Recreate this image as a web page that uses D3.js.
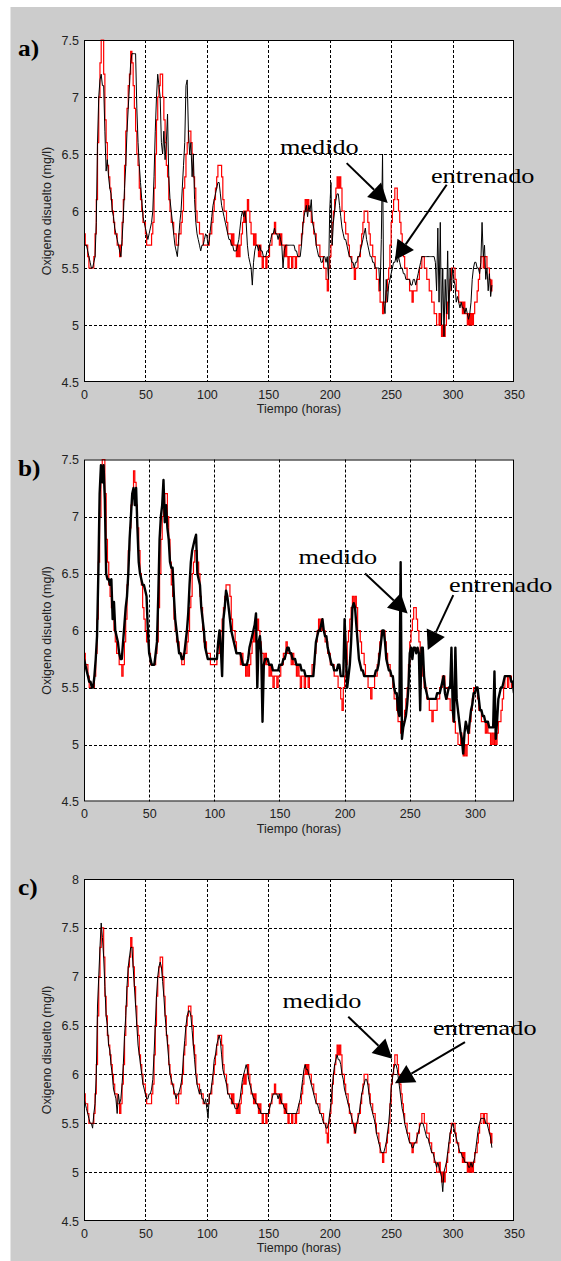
<!DOCTYPE html>
<html>
<head>
<meta charset="utf-8">
<script src="https://cdn.jsdelivr.net/npm/d3@7"></script>
<style>
  body { margin: 0; background: #fff; }
  svg { display: block; }
</style>
</head>
<body>
<svg id="fig" width="561" height="1261"></svg>
<script>
// oxigeno disuelto medido (mg/l), una muestra por hora, t = 0..332
const medido = [
  5.8,5.7,5.7,5.6,5.5,5.5,5.5,5.5,5.6,5.8,
  6.1,6.6,7.0,7.3,7.5,7.5,7.2,6.8,6.6,6.4,
  6.3,6.2,6.1,6.0,5.9,5.8,5.8,5.7,5.7,5.6,
  5.7,5.9,6.1,6.4,6.7,6.9,7.1,7.2,7.4,7.3,
  7.1,6.9,6.7,6.5,6.4,6.2,6.1,6.0,5.9,5.9,
  5.8,5.7,5.7,5.7,5.7,5.8,5.9,6.2,6.5,6.8,
  7.0,7.1,7.2,7.2,7.0,6.8,6.6,6.4,6.3,6.1,
  6.0,5.9,5.9,5.8,5.8,5.7,5.7,5.8,5.8,5.9,
  6.0,6.2,6.3,6.5,6.6,6.7,6.7,6.6,6.5,6.3,
  6.2,6.0,5.9,5.9,5.8,5.8,5.8,5.7,5.7,5.7,
  5.7,5.7,5.8,5.8,5.9,6.0,6.1,6.2,6.3,6.4,
  6.4,6.4,6.3,6.1,6.0,6.0,5.9,5.8,5.8,5.8,
  5.7,5.8,5.7,5.7,5.6,5.7,5.6,5.7,5.8,5.9,
  6.0,5.9,6.0,6.1,6.0,5.9,5.8,5.8,5.7,5.8,
  5.7,5.7,5.6,5.7,5.6,5.5,5.6,5.6,5.5,5.6,
  5.6,5.7,5.7,5.8,5.8,5.9,5.8,5.8,5.8,5.7,
  5.8,5.7,5.7,5.6,5.7,5.6,5.5,5.6,5.6,5.5,
  5.6,5.6,5.5,5.6,5.6,5.7,5.7,5.8,5.9,6.0,
  6.1,6.0,6.1,6.0,6.0,5.9,5.9,5.8,5.8,5.7,
  5.7,5.7,5.6,5.6,5.6,5.5,5.5,5.4,5.3,5.5,
  5.6,5.7,5.9,6.0,6.1,6.2,6.3,6.2,6.3,6.2,
  6.0,6.0,5.9,5.8,5.8,5.7,5.6,5.6,5.5,5.5,
  5.4,5.5,5.5,5.6,5.6,5.7,5.8,5.9,6.0,6.0,
  6.0,5.9,5.8,5.7,5.7,5.6,5.6,5.5,5.4,5.4,
  5.3,5.2,5.2,5.1,5.2,5.2,5.3,5.4,5.5,5.7,
  5.9,6.0,6.1,6.2,6.2,6.1,6.0,5.9,5.8,5.7,
  5.6,5.5,5.5,5.4,5.4,5.3,5.3,5.2,5.3,5.3,
  5.3,5.4,5.4,5.5,5.5,5.6,5.6,5.5,5.5,5.4,
  5.4,5.3,5.3,5.2,5.2,5.1,5.1,5.0,5.0,5.1,
  5.0,4.9,5.0,4.9,5.0,5.1,5.2,5.3,5.4,5.5,
  5.5,5.5,5.4,5.3,5.3,5.2,5.2,5.2,5.1,5.2,
  5.1,5.1,5.0,5.1,5.0,5.1,5.0,5.1,5.2,5.2,
  5.3,5.4,5.5,5.6,5.6,5.5,5.6,5.6,5.5,5.5,
  5.4,5.3,5.4
];

// salida del modelo entrenado, panel a)
const entrenadoA = [
  5.7,5.7,5.7,5.65,5.6,5.55,5.5,5.5,5.55,5.6,
  5.9,6.6,7.0,7.15,7.2,7.1,7.1,6.7,6.35,6.45,
  6.3,6.2,6.15,6.0,5.95,5.85,5.8,5.75,5.7,5.65,
  5.6,5.75,5.95,6.2,6.4,6.7,6.9,7.1,7.3,7.38,
  7.38,7.38,7.38,6.9,6.6,6.4,6.25,6.1,5.95,5.9,
  5.85,5.8,5.75,5.8,5.85,5.9,6.0,6.3,6.7,7.0,
  7.2,7.1,7.0,6.6,6.5,6.7,6.45,6.6,6.85,6.3,
  6.1,6.0,5.9,5.8,5.7,5.65,5.6,5.75,5.9,6.0,
  6.2,6.4,6.6,7.1,7.15,6.7,6.5,6.6,6.3,6.5,
  6.1,5.9,5.8,5.75,5.7,5.65,5.7,5.7,5.75,5.8,
  5.78,5.7,5.75,5.85,5.95,6.05,6.1,6.15,6.2,6.25,
  6.25,6.15,6.05,6.0,5.95,5.9,5.85,5.8,5.75,5.75,
  5.7,5.7,5.65,5.65,5.65,5.7,5.75,5.85,5.95,6.0,
  5.95,6.0,5.9,5.7,5.6,5.55,5.5,5.35,5.55,5.65,
  5.7,5.7,5.65,5.7,5.65,5.65,5.6,5.6,5.6,5.65,
  5.65,5.7,5.75,5.8,5.8,5.85,5.8,5.8,5.75,5.8,
  5.75,5.7,5.5,5.65,5.7,5.7,5.7,5.7,5.7,5.7,
  5.7,5.7,5.65,5.65,5.6,5.6,5.6,5.7,5.85,5.95,
  6.0,6.05,5.95,6.05,6.0,6.1,5.9,5.85,5.8,5.7,
  5.65,5.6,5.6,5.55,5.55,5.6,5.6,5.55,5.6,5.4,
  6.0,6.25,5.7,5.9,6.0,6.1,6.15,6.15,6.05,5.95,
  5.85,5.8,5.75,5.75,5.7,5.65,5.6,5.6,5.55,5.55,
  5.5,5.55,5.55,5.6,5.6,5.65,5.7,5.75,5.8,5.85,
  5.75,5.7,5.65,5.6,5.6,5.55,5.55,5.5,5.5,5.5,
  5.5,5.3,5.75,6.5,5.2,5.1,5.4,5.2,5.35,5.4,
  5.45,5.5,5.55,5.55,5.6,5.55,5.6,5.55,5.5,5.5,
  5.45,5.45,5.4,5.4,5.4,5.4,5.35,5.35,5.4,5.4,
  5.35,5.4,5.45,5.5,5.55,5.6,5.6,5.6,5.6,5.6,
  5.6,5.6,5.6,5.6,5.6,5.6,5.55,5.3,5.85,5.2,
  5.9,5.0,5.5,4.9,5.4,5.1,5.65,5.05,5.5,5.3,
  5.5,5.4,5.35,5.2,5.25,5.2,5.15,5.2,5.15,5.15,
  5.1,5.15,5.1,5.05,5.1,5.2,5.4,5.5,5.55,5.55,
  5.5,5.5,5.45,5.55,5.9,5.6,5.7,5.4,5.5,5.3,
  5.45,5.25,5.35
];

// salida del modelo entrenado, panel b)
const entrenadoB = [
  5.75,5.7,5.65,5.6,5.55,5.55,5.5,5.5,5.6,5.75,
  5.95,6.5,7.2,7.45,7.3,7.45,7.15,6.5,6.45,6.45,
  6.4,6.45,6.1,6.25,6.0,5.95,5.9,5.8,5.75,5.75,
  5.9,6.05,6.2,6.3,6.5,6.8,7.0,7.2,7.25,7.1,
  7.25,6.9,6.6,6.5,6.45,6.4,6.4,6.35,6.3,6.0,
  5.8,5.75,5.7,5.7,5.7,5.8,5.9,6.3,6.8,7.0,
  7.1,7.32,6.95,7.1,6.9,6.8,6.6,6.55,6.55,6.3,
  6.1,6.0,5.9,5.8,5.8,5.75,5.75,5.8,5.9,6.0,
  6.15,6.4,6.6,6.7,6.75,6.8,6.84,6.5,6.45,6.4,
  6.2,6.1,6.0,5.85,5.8,5.75,5.75,5.75,5.75,5.75,
  5.75,5.75,5.75,5.9,6.0,5.85,5.6,6.1,6.2,6.35,
  6.3,6.2,6.1,6.0,5.95,5.9,5.85,5.8,5.8,5.8,
  5.8,5.75,5.7,5.7,5.7,5.7,5.75,5.85,5.9,5.95,
  6.0,6.05,6.15,5.5,5.9,5.95,5.8,5.2,5.7,5.75,
  5.75,5.75,5.7,5.7,5.7,5.65,5.65,5.65,5.65,5.65,
  5.7,5.7,5.7,5.75,5.75,5.8,5.85,5.85,5.8,5.8,
  5.75,5.75,5.75,5.7,5.7,5.7,5.7,5.65,5.65,5.65,
  5.6,5.6,5.6,5.6,5.6,5.6,5.6,5.75,5.9,5.95,
  6.0,6.0,6.05,6.1,6.0,5.95,5.95,5.85,5.8,5.75,
  5.7,5.7,5.65,5.65,5.65,5.7,5.7,5.6,5.6,5.6,
  6.1,5.8,5.5,5.6,5.7,5.9,6.2,6.24,6.2,6.05,
  5.9,5.75,5.7,5.65,5.65,5.6,5.6,5.6,5.6,5.6,
  5.6,5.6,5.6,5.6,5.65,5.65,5.7,5.8,5.9,6.0,
  6.0,5.9,5.75,5.7,5.65,5.65,5.6,5.6,5.5,5.45,
  5.45,5.3,5.25,6.6,5.05,5.15,5.2,5.25,5.35,5.5,
  5.8,5.85,5.75,5.85,5.85,5.8,5.85,5.8,5.3,5.85,
  5.85,5.6,5.5,5.45,5.4,5.4,5.4,5.4,5.4,5.4,
  5.4,5.45,5.45,5.45,5.5,5.55,5.6,5.45,5.4,5.45,
  5.5,5.5,5.85,5.3,5.2,5.85,5.4,5.3,5.2,5.1,
  5.05,4.92,5.1,5.2,5.15,5.1,5.2,5.3,5.35,5.45,
  5.45,5.5,5.5,5.4,5.3,5.3,5.25,5.25,5.2,5.2,
  5.2,5.15,5.15,5.15,5.15,5.64,5.05,5.2,5.4,5.45,
  5.5,5.5,5.55,5.6,5.6,5.6,5.6,5.6,5.55,5.55,
  5.45
];

// salida del modelo entrenado, panel c)
const entrenadoC = [
  5.75,5.7,5.65,5.6,5.55,5.5,5.5,5.45,5.6,5.7,
  6.0,6.7,7.0,7.3,7.55,7.4,7.2,6.9,6.6,6.5,
  6.3,6.25,6.1,6.0,5.85,5.8,5.75,5.6,5.8,5.7,
  5.75,5.9,6.1,6.4,6.6,6.9,7.1,7.2,7.3,7.3,
  7.1,6.9,6.7,6.5,6.3,6.2,6.1,6.0,5.9,5.85,
  5.8,5.75,5.75,5.8,5.8,5.85,5.95,6.2,6.5,6.8,
  7.0,7.1,7.15,7.1,6.95,6.8,6.6,6.45,6.3,6.15,
  6.0,5.95,5.9,5.85,5.8,5.75,5.8,5.8,5.85,5.9,
  6.0,6.2,6.35,6.5,6.6,6.65,6.65,6.6,6.45,6.3,
  6.15,6.0,5.9,5.85,5.8,5.85,5.75,5.75,5.7,5.75,
  5.65,5.55,5.8,5.8,5.9,6.0,6.15,6.2,6.3,6.35,
  6.4,6.35,6.2,6.05,6.0,5.95,5.9,5.8,5.8,5.75,
  5.75,5.7,5.7,5.65,5.65,5.65,5.7,5.75,5.85,5.95,
  6.0,6.05,6.1,6.05,5.95,5.9,5.85,5.8,5.75,5.75,
  5.7,5.7,5.65,5.65,5.6,5.6,5.6,5.6,5.6,5.6,
  5.6,5.65,5.7,5.75,5.8,5.8,5.8,5.8,5.75,5.8,
  5.75,5.7,5.7,5.65,5.65,5.6,5.6,5.6,5.6,5.6,
  5.6,5.6,5.6,5.6,5.65,5.7,5.75,5.85,5.95,6.05,
  6.1,6.05,6.05,6.0,5.95,5.9,5.85,5.8,5.75,5.7,
  5.7,5.65,5.6,5.6,5.55,5.5,5.5,5.45,5.45,5.5,
  5.6,5.7,5.85,6.0,6.1,6.15,6.2,6.15,6.15,6.1,
  6.0,5.95,5.85,5.8,5.75,5.7,5.65,5.6,5.55,5.5,
  5.45,5.4,5.5,5.55,5.6,5.7,5.8,5.85,5.9,5.95,
  5.95,5.9,5.8,5.7,5.65,5.6,5.55,5.5,5.4,5.35,
  5.3,5.25,5.2,5.2,5.2,5.25,5.3,5.4,5.5,5.65,
  5.85,5.95,6.05,6.1,6.1,6.05,5.95,5.85,5.75,5.65,
  5.6,5.5,5.45,5.4,5.35,5.3,5.3,5.25,5.25,5.3,
  5.3,5.35,5.4,5.45,5.5,5.5,5.5,5.45,5.4,5.35,
  5.35,5.3,5.25,5.2,5.2,5.15,5.1,5.05,5.1,5.05,
  5.0,4.95,4.8,5.0,5.05,5.1,5.2,5.3,5.4,5.45,
  5.5,5.45,5.4,5.35,5.3,5.25,5.2,5.2,5.15,5.15,
  5.1,5.1,5.1,5.05,5.05,5.1,5.05,5.1,5.15,5.25,
  5.35,5.45,5.5,5.55,5.55,5.55,5.55,5.5,5.5,5.45,
  5.4,5.35,5.25
];

const xTicks350 = [0, 50, 100, 150, 200, 250, 300, 350];
const xTicks330 = [0, 50, 100, 150, 200, 250, 300];
const yTicks75 = [4.5, 5, 5.5, 6, 6.5, 7, 7.5];
const yTicks8 = [4.5, 5, 5.5, 6, 6.5, 7, 7.5, 8];

// anotaciones en coordenadas de datos (horas, mg/l)
const notas = [
  { medido: [159.5, 6.5], entrenado: [282.4, 6.25],
    flechaMedido: [[213.8, 6.42], [247.2, 6.07]],
    flechaEntrenado: [[295.2, 6.23], [253.1, 5.57]] },
  { medido: [164.6, 6.58], entrenado: [280.1, 6.34],
    flechaMedido: [[215.7, 6.50], [248.4, 6.15]],
    flechaEntrenado: [[283.4, 6.31], [263.8, 5.83]] },
  { medido: [161.6, 6.68], entrenado: [284.1, 6.40],
    flechaMedido: [[215.1, 6.59], [250.9, 6.16]],
    flechaEntrenado: [[310.1, 6.33], [253.1, 5.91]] }
];

const panels = [
  { label: "a)", top: 40, xMax: 350, yMax: 7.5, xTicks: xTicks350, yTicks: yTicks75, fit: entrenadoA, fitWidth: 1, nota: notas[0] },
  { label: "b)", top: 459.5, xMax: 330, yMax: 7.5, xTicks: xTicks330, yTicks: yTicks75, fit: entrenadoB, fitWidth: 2.4, nota: notas[1] },
  { label: "c)", top: 879, xMax: 350, yMax: 8, xTicks: xTicks350, yTicks: yTicks8, fit: entrenadoC, fitWidth: 1, nota: notas[2] }
];

const left = 84, right = 514, plotH = 342;
const sans = "'Liberation Sans', Arial, sans-serif";
const serif = "'Liberation Serif', 'Times New Roman', serif";

const svg = d3.select("#fig");

// fondo gris de la figura
svg.append("rect")
  .attr("x", 10.5).attr("y", 7)
  .attr("width", 561 - 10.5).attr("height", 1261 - 7)
  .attr("fill", "#cccccc");

panels.forEach((p, k) => {
  const x = d3.scaleLinear().domain([0, p.xMax]).range([left, right]);
  const y = d3.scaleLinear().domain([4.5, p.yMax]).range([p.top + plotH, p.top]);
  const g = svg.append("g");

  g.append("rect")
    .attr("x", left).attr("y", p.top)
    .attr("width", right - left).attr("height", plotH)
    .attr("fill", "#fff");

  // rejilla punteada
  g.append("g").selectAll("line")
    .data(p.xTicks.filter(t => t > 0 && t < p.xMax))
    .join("line")
    .attr("x1", d => Math.round(x(d)) + 0.5).attr("x2", d => Math.round(x(d)) + 0.5)
    .attr("y1", p.top).attr("y2", p.top + plotH)
    .attr("stroke", "#000").attr("stroke-width", 1).attr("stroke-dasharray", "3,2");
  g.append("g").selectAll("line")
    .data(p.yTicks.filter(v => v > 4.5 && v < p.yMax))
    .join("line")
    .attr("y1", d => Math.round(y(d)) + 0.5).attr("y2", d => Math.round(y(d)) + 0.5)
    .attr("x1", left).attr("x2", right)
    .attr("stroke", "#000").attr("stroke-width", 1).attr("stroke-dasharray", "3,2");

  const clipId = "clip" + k;
  svg.append("clipPath").attr("id", clipId)
    .append("rect").attr("x", left).attr("y", p.top - 1)
    .attr("width", right - left).attr("height", plotH + 2);

  const lineas = g.append("g").attr("clip-path", `url(#${clipId})`);

  lineas.append("path")
    .datum(medido)
    .attr("fill", "none")
    .attr("stroke", "#ff0000")
    .attr("stroke-width", 1.2)
    .attr("d", d3.line().x((d, i) => x(i)).y(d => y(d)).curve(d3.curveStepAfter));

  lineas.append("path")
    .datum(p.fit)
    .attr("fill", "none")
    .attr("stroke", "#000")
    .attr("stroke-width", p.fitWidth)
    .attr("stroke-linejoin", "round")
    .attr("d", d3.line().x((d, i) => x(i)).y(d => y(d)));

  // ejes
  const xAxis = g.append("g")
    .attr("transform", `translate(0,${p.top + plotH})`)
    .call(d3.axisBottom(x).tickValues(p.xTicks).tickSize(0).tickPadding(8).tickFormat(d3.format("d")));
  const yAxis = g.append("g")
    .attr("transform", `translate(${left},0)`)
    .call(d3.axisLeft(y).tickValues(p.yTicks).tickSize(0).tickPadding(5).tickFormat(d => String(d)));
  [xAxis, yAxis].forEach(a => {
    a.select(".domain").remove();
    a.selectAll("text").attr("font-family", sans).attr("font-size", 12.5).attr("fill", "#222");
  });

  g.append("rect")
    .attr("x", left + 0.5).attr("y", p.top + 0.5)
    .attr("width", right - left - 1).attr("height", plotH - 1)
    .attr("fill", "none").attr("stroke", "#000").attr("stroke-width", 1);

  g.append("text")
    .attr("x", (left + right) / 2).attr("y", p.top + plotH + 31)
    .attr("text-anchor", "middle")
    .attr("font-family", sans).attr("font-size", 12.5).attr("fill", "#222")
    .text("Tiempo (horas)");

  g.append("text")
    .attr("transform", `translate(51,${p.top + plotH / 2}) rotate(-90)`)
    .attr("text-anchor", "middle")
    .attr("font-family", sans).attr("font-size", 12.5).attr("fill", "#222")
    .text("Oxigeno disuelto (mg/l)");

  g.append("text")
    .attr("transform", `translate(18,${p.top + 16}) scale(1.1,1)`)
    .attr("font-family", serif).attr("font-weight", "bold").attr("font-size", 23)
    .text(p.label);

  // anotaciones
  const n = p.nota;
  [["medido", n.medido], ["entrenado", n.entrenado]].forEach(([txt, pos]) => {
    g.append("text")
      .attr("transform", `translate(${x(pos[0])},${y(pos[1])}) scale(1.25,1)`)
      .attr("font-family", serif).attr("font-size", 21)
      .text(txt);
  });
  [n.flechaMedido, n.flechaEntrenado].forEach(([a, b]) => {
    const x0 = x(a[0]), y0 = y(a[1]), x1 = x(b[0]), y1 = y(b[1]);
    const len = Math.hypot(x1 - x0, y1 - y0);
    const ux = (x1 - x0) / len, uy = (y1 - y0) / len;
    const headL = 19, headW = 10;
    const bx = x1 - ux * headL, by = y1 - uy * headL;
    g.append("line")
      .attr("x1", x0).attr("y1", y0).attr("x2", bx).attr("y2", by)
      .attr("stroke", "#000").attr("stroke-width", 2);
    g.append("polygon")
      .attr("points", [[x1, y1], [bx - uy * headW, by + ux * headW], [bx + uy * headW, by - ux * headW]].join(" "))
      .attr("fill", "#000");
  });
});
</script>
</body>
</html>
